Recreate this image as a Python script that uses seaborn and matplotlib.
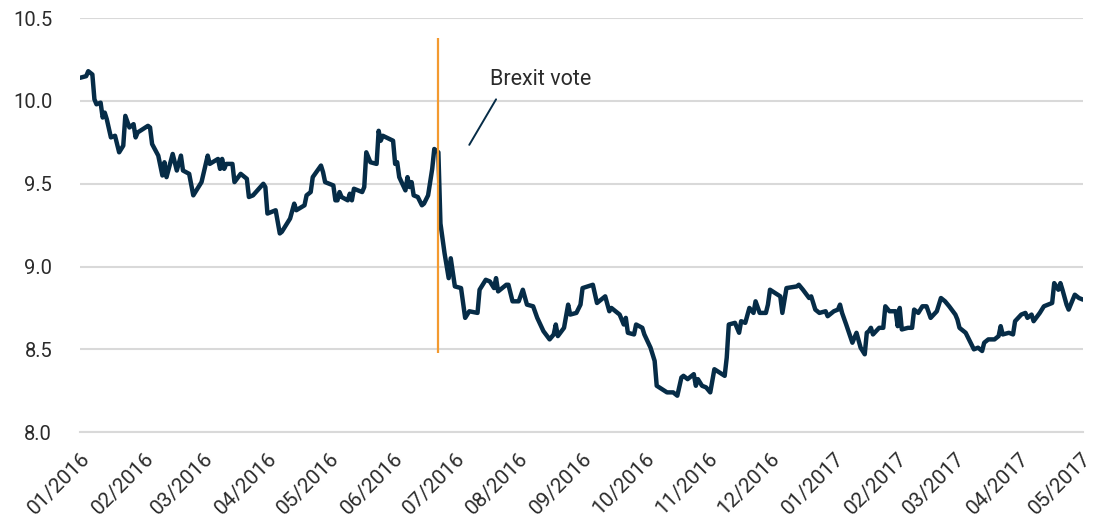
import matplotlib
matplotlib.use("Agg")
import matplotlib.pyplot as plt
import matplotlib.dates as mdates
import numpy as np
import pandas as pd
import seaborn as sns

# days after 1 Jan 2016
day_offset = [
    0, 3, 4, 6, 7, 8, 10, 11, 12, 13, 15, 17, 19, 21, 22, 24, 26, 27, 28, 33,
    34, 35, 38, 40, 41, 42, 45, 47, 49, 50, 53, 55, 59, 62, 63, 67, 68, 69, 70, 71,
    74, 75, 78, 81, 82, 84, 89, 90, 91, 95, 97, 98, 102, 104, 105, 109, 110, 112, 113, 117,
    118, 119, 123, 124, 125, 126, 127, 130, 131, 132, 133, 137, 138, 139, 141, 144, 145, 146, 147, 152,
    153, 154, 155, 158, 159, 160, 161, 162, 164, 166, 167, 169, 171, 172, 173, 174, 175, 177, 179, 180,
    182, 185, 187, 189, 193, 194, 197, 199, 201, 202, 203, 207, 208, 210, 213, 215, 217, 220, 222, 225,
    228, 230, 231, 232, 235, 237, 238, 241, 243, 244, 249, 251, 255, 257, 258, 262, 264, 265, 266, 269,
    270, 273, 274, 277, 279, 280, 285, 288, 290, 292, 293, 295, 298, 299, 300, 302, 304, 306, 308, 313,
    314, 315, 318, 320, 321, 323, 325, 327, 328, 330, 333, 334, 335, 340, 341, 343, 348, 349, 351, 354,
    355, 357, 359, 362, 363, 366, 368, 369, 370, 372, 375, 377, 379, 381, 382, 383, 384, 385, 388, 390,
    391, 393, 396, 397, 398, 399, 402, 404, 405, 407, 409, 411, 413, 416, 418, 420, 422, 425, 426, 427,
    430, 432, 434, 436, 438, 439, 441, 444, 446, 447, 448, 451, 453, 454, 457, 459, 460, 462, 463, 466,
    468, 472, 473, 475, 476, 477, 479, 480, 483, 485, 487,
]
rate = [
    10.14, 10.15, 10.18, 10.16, 10.01, 9.98, 9.99, 9.90, 9.93, 9.89, 9.78, 9.79, 9.69, 9.73, 9.91, 9.84, 9.86, 9.78, 9.81, 9.85,
    9.84, 9.74, 9.67, 9.55, 9.63, 9.54, 9.68, 9.58, 9.67, 9.58, 9.56, 9.43, 9.51, 9.67, 9.62, 9.65, 9.59, 9.65, 9.59, 9.62,
    9.62, 9.51, 9.56, 9.53, 9.42, 9.43, 9.50, 9.48, 9.32, 9.34, 9.20, 9.21, 9.29, 9.38, 9.34, 9.37, 9.43, 9.45, 9.54, 9.61,
    9.57, 9.51, 9.49, 9.40, 9.40, 9.45, 9.42, 9.40, 9.44, 9.40, 9.47, 9.45, 9.48, 9.69, 9.63, 9.62, 9.82, 9.76, 9.79, 9.76,
    9.62, 9.63, 9.54, 9.46, 9.54, 9.48, 9.51, 9.43, 9.42, 9.37, 9.38, 9.43, 9.59, 9.71, 9.70, 9.69, 9.26, 9.08, 8.93, 9.05,
    8.88, 8.87, 8.69, 8.73, 8.72, 8.86, 8.92, 8.91, 8.87, 8.93, 8.85, 8.89, 8.89, 8.79, 8.79, 8.86, 8.77, 8.76, 8.69, 8.61,
    8.56, 8.59, 8.65, 8.58, 8.63, 8.77, 8.71, 8.72, 8.77, 8.87, 8.89, 8.78, 8.82, 8.73, 8.75, 8.71, 8.65, 8.69, 8.60, 8.59,
    8.65, 8.63, 8.59, 8.51, 8.43, 8.28, 8.24, 8.24, 8.22, 8.33, 8.34, 8.32, 8.35, 8.28, 8.32, 8.28, 8.27, 8.24, 8.38, 8.34,
    8.45, 8.65, 8.66, 8.60, 8.67, 8.66, 8.75, 8.72, 8.79, 8.72, 8.72, 8.77, 8.86, 8.82, 8.72, 8.87, 8.88, 8.89, 8.86, 8.81,
    8.82, 8.74, 8.72, 8.73, 8.70, 8.73, 8.74, 8.77, 8.72, 8.65, 8.54, 8.60, 8.51, 8.47, 8.60, 8.61, 8.63, 8.59, 8.63, 8.63,
    8.76, 8.73, 8.73, 8.64, 8.75, 8.62, 8.63, 8.63, 8.74, 8.72, 8.76, 8.76, 8.69, 8.73, 8.81, 8.79, 8.76, 8.71, 8.68, 8.63,
    8.60, 8.55, 8.50, 8.51, 8.49, 8.54, 8.56, 8.56, 8.58, 8.64, 8.59, 8.60, 8.59, 8.67, 8.71, 8.72, 8.69, 8.71, 8.67, 8.72,
    8.76, 8.78, 8.90, 8.86, 8.90, 8.86, 8.77, 8.74, 8.83, 8.81, 8.80,
]
vote_date = "2016-06-23"
vote_span = [8.48, 10.38]
y_ticks = [8.0, 8.5, 9.0, 9.5, 10.0, 10.5]

dates = pd.Timestamp("2016-01-01") + pd.to_timedelta(day_offset, unit="D")
df = pd.DataFrame({"date": dates, "rate": rate})

sns.set_theme(style="white")
plt.rcParams['font.family'] = ['Roboto', 'DejaVu Sans']

navy = "#062c47"
grid_c = "#d9d9d9"
txt_c = "#2b2b2b"

fig = plt.figure(figsize=(10.93, 5.2), dpi=100)
ax = fig.add_axes([0.0732, 0.169, 0.9177, 0.796])

sns.lineplot(data=df, x="date", y="rate", ax=ax, color=navy, linewidth=3.2)

ax.vlines(pd.Timestamp(vote_date), vote_span[0], vote_span[1], color="#f39a30", linewidth=1.6, zorder=3)

# annotation
ax.plot([pd.Timestamp("2016-07-21"), pd.Timestamp("2016-07-08")], [10.01, 9.735],
        color=navy, linewidth=1.4)
ax.text(pd.Timestamp("2016-07-18"), 10.13, "Brexit vote", fontsize=15.5,
        color=txt_c, va="center", ha="left")

ax.set_ylim(8.0, 10.5)
ax.set_yticks(y_ticks)
ax.set_yticklabels([f"{v:.1f}" for v in y_ticks])
ax.set_xlim(pd.Timestamp("2016-01-01"), dates[-1])
ax.xaxis.set_major_locator(mdates.MonthLocator())
ax.xaxis.set_major_formatter(mdates.DateFormatter("%m/%Y"))

ax.grid(axis="y", color=grid_c, linewidth=1.5)
ax.set_axisbelow(True)
for s in ["top", "right", "left"]:
    ax.spines[s].set_visible(False)
ax.spines["bottom"].set_color(grid_c)
ax.spines["bottom"].set_linewidth(1.5)

ax.tick_params(axis="y", length=0, pad=20, labelsize=14.5, labelcolor=txt_c)
ax.tick_params(axis="x", length=8, width=1.5, color=grid_c, pad=4,
               labelsize=15, labelcolor=txt_c)
for lab in ax.get_xticklabels():
    lab.set_rotation(45)
    lab.set_ha("right")
    lab.set_rotation_mode("anchor")

ax.set_xlabel("")
ax.set_ylabel("")

fig.savefig("out.png", dpi=100)
